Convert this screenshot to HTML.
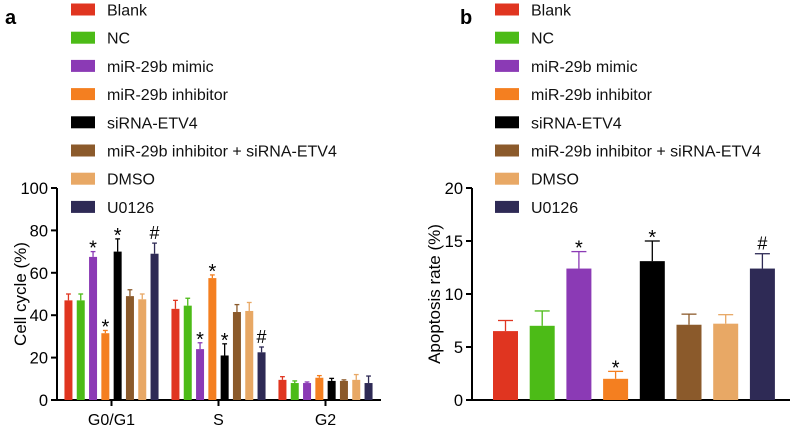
<!DOCTYPE html>
<html><head><meta charset="utf-8"><style>
body{margin:0;background:#fff;font-family:"Liberation Sans",Arial,sans-serif}
svg text{font-family:"Liberation Sans",Arial,sans-serif}
</style></head><body>
<svg id="s" width="797" height="431" xmlns="http://www.w3.org/2000/svg"></svg>
<script>
const groups=["Blank","NC","miR-29b mimic","miR-29b inhibitor","siRNA-ETV4","miR-29b inhibitor + siRNA-ETV4","DMSO","U0126"];
const colors=["#e03520","#4cbb17","#8b3ab5","#f47f20","#000000","#8b5a2b","#e8a865","#2e2a55"];
const phases=["G0/G1","S","G2"];
const cycleMean=[[47,47,67.5,31.5,70,49,47.5,69],[43,44.5,24,57.5,21,41.5,42,22.5],[9.5,8,8,10.5,9,9,9.5,8]];
const cycleErr=[[3,3,2.5,1.3,6,3,2.5,5],[4,3.5,3,1.5,5.5,3.5,4,2.5],[1.5,1,0.5,1,1.2,0.5,2.5,3.3]];
const cycleMark=[["","","*","*","*","","","#"],["","","*","*","*","","","#"],["","","","","","","",""]];
const apopMean=[6.5,7,12.4,2,13.1,7.1,7.2,12.4];
const apopErr=[1,1.4,1.6,0.7,1.9,1,0.85,1.4];
const apopMark=["","","*","*","*","","","#"];
const cycleTicks=[0,20,40,60,80,100];
const apopTicks=[0,5,10,15,20];

const S=document.getElementById('s');const NS="http://www.w3.org/2000/svg";
function mk(t,a,txt){const e=document.createElementNS(NS,t);for(const k in a)e.setAttribute(k,a[k]);if(txt!==undefined)e.textContent=txt;S.appendChild(e);return e;}

function legend(x0,label,lx){
  const p=mk('text',{x:lx,y:24,'font-size':20,'font-weight':'bold'},label);
  
  
  groups.forEach((g,i)=>{
    const y=3.5+i*28.2;
    const r=mk('rect',{x:x0,y:y,width:24,height:12,fill:colors[i]});
    
    
    const t=mk('text',{x:x0+36,y:y+12,'font-size':16,fill:'#111'},g);
    
    
  });
}
legend(71,'a',5);
legend(495,'b',460);

function axisY(ax,y0,y1,x1,ticks,max,title,tx){
  const sy=v=>y0-(v/max)*(y0-y1);
  const l=mk('line',{x1:ax,y1:y1,x2:ax,y2:y0,stroke:'#000','stroke-width':2});
  
  
  const b=mk('line',{x1:ax-1,y1:y0,x2:x1,y2:y0,stroke:'#000','stroke-width':2});
  
  
  ticks.forEach(v=>{
    mk('line',{x1:ax-6,y1:sy(v),x2:ax,y2:sy(v),stroke:'#000','stroke-width':2});
    const t=mk('text',{x:ax-9,y:sy(v)+6,'font-size':16.5,'text-anchor':'end'},v);
    
    
  });
  const tt=mk('text',{x:0,y:0,'font-size':17,'text-anchor':'middle',transform:`translate(${tx},${(y0+y1)/2}) rotate(-90)`},title);
  
  
  return sy;
}
function bar(sy,cx,w,v,e,c,m){
  const y0=sy(0),yt=sy(v),ye=sy(v+e);
  mk('line',{x1:cx,y1:yt,x2:cx,y2:ye,stroke:c,'stroke-width':1.3});
  mk('line',{x1:cx-w*0.3,y1:ye,x2:cx+w*0.3,y2:ye,stroke:c,'stroke-width':1.3});
  const r=mk('rect',{x:cx-w/2,y:yt,width:w,height:y0-yt,fill:c});
  
  
  if(m){const t=mk('text',{x:cx,y:ye-(m=='*'?-3:4),'font-size':m=='*'?20:18,'text-anchor':'middle'},m);
    
    }
}
const syA=axisY(57,400,188,381,cycleTicks,100,'Cell cycle (%)',26);
const centers=[111.5,218.5,325.5];
phases.forEach((p,gi)=>{
  const c=centers[gi];
  mk('line',{x1:c,y1:400,x2:c,y2:406,stroke:'#000','stroke-width':2});
  const t=mk('text',{x:c,y:425,'font-size':16,'text-anchor':'middle'},p);
  
  
  cycleMean[gi].forEach((v,i)=>bar(syA,c+(i-3.5)*12.3,8,v,cycleErr[gi][i],colors[i],cycleMark[gi][i]));
});
const syB=axisY(472,400,188,790,apopTicks,20,'Apoptosis rate (%)',440);
apopMean.forEach((v,i)=>bar(syB,505.5+i*36.7,25,v,apopErr[i],colors[i],apopMark[i]));
</script>
</body></html>
